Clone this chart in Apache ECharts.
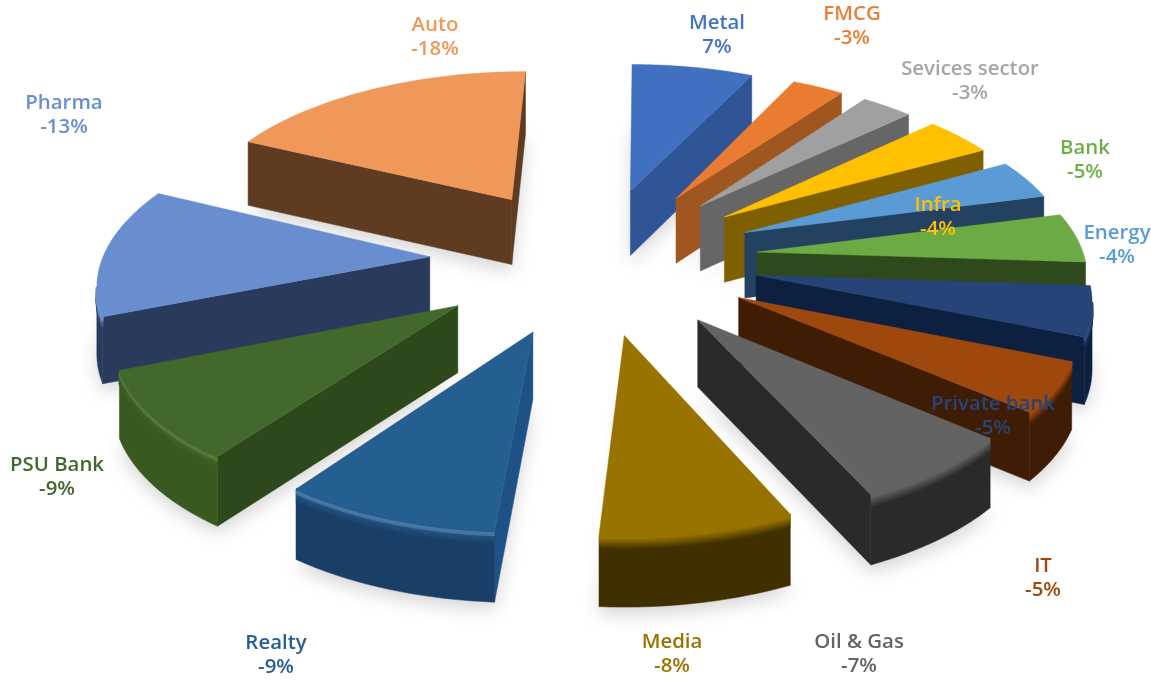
<!DOCTYPE html>
<html><head><meta charset="utf-8">
<style>html,body{margin:0;padding:0;background:#fff}#c{width:1151px;height:681px}</style>
<script src="https://cdn.jsdelivr.net/npm/echarts@6/dist/echarts.min.js"></script>
</head><body><div id="c"></div>
<script>
// DATA
const categories = ['Metal','FMCG','Sevices sector','Infra','Energy','Bank','Private bank','IT','Oil & Gas','Media','Realty','PSU Bank','Pharma','Auto'];
const returnsPct = [7,-3,-3,-4,-4,-5,-5,-5,-7,-8,-9,-9,-13,-18];
// STYLE
const topColors   = ['#4270C0','#E97C30','#A0A0A0','#FFC000','#5B9BD5','#6CAB44','#264478','#9E480E','#636363','#997300','#255E91','#43682B','#698ED0','#F0975A'];
const radialColors= ['#2F5597','#A0561F','#666666','#7F6000','#234161','#2E4A1C','#0D2040','#3F1D05','#2A2A2A','#403000','#1E5287','#2D481A','#2A3A5C','#5F3B22'];
const wallColors  = ['#2F5597','#A0561F','#666666','#7F6000','#234161','#2E4A1C','#0D2040','#3F1D05','#2A2A2A','#403000','#1A3F66','#38591F','#2A3A5C','#5F3B22'];
const rimGlow     = [0,0,0,0,0,0,.08,0,0,0,.16,.1,.1,0];
const labelColors = ['#4472C4','#ED7D31','#A5A5A5','#FFC000','#5B9BD5','#70AD47','#264478','#9E480E','#636363','#997300','#255E91','#43682B','#698ED0','#F1975A'];
const labelAt = [[717,35],[852,26],[970,81],[938,217],[1117,245],[1085,160],[993,416],[1043,578],[859,654],[672,654],[276,655],[57,477],[64,115],[435,37]];
// SCENE
const cx=594, cy=259, tilt=.46, persp=.00035, shear=.015, xScale=.98, explodeX=168, explodeY=160, radiusX=334, radiusY=340, depth=66;
const total = returnsPct.reduce((a,v)=>a+Math.abs(v),0);
const starts=[]; { let a=0; returnsPct.forEach(v=>{starts.push(a); a+=Math.abs(v)/total*Math.PI*2;}); }
function proj(X,Y,d){ const s=1/(1-Y*persp); return [cx+X*xScale*s-Y*shear, cy+Y*tilt*s+d*Math.pow(s,.4)]; }
function area(q){ let a=0; for(let i=0;i<q.length;i++){const p=q[i],n=q[(i+1)%q.length]; a+=p[0]*n[1]-n[0]*p[1];} return a; }
function rgb(h){const n=parseInt(h.slice(1),16);return [n>>16,(n>>8)&255,n&255];}
function lerp(a,b,t,g){const A=rgb(a),B=rgb(b);return 'rgb('+A.map((v,i)=>{const c=v+(B[i]-v)*t;return Math.round(c+(255-c)*(g||0));}).join(',')+')';}
const depthOrder = categories.map((_,i)=>{const a0=starts[i],a1=a0+Math.abs(returnsPct[i])/total*Math.PI*2,m=(a0+a1)/2;return {i,y:-Math.cos(m)};}).sort((a,b)=>a.y-b.y);
const rank={}; depthOrder.forEach((o,r)=>rank[o.i]=r);

function renderItem(params){
  const i=params.dataIndex, sweep=Math.abs(returnsPct[i])/total*Math.PI*2, a0=starts[i], a1=a0+sweep, m=(a0+a1)/2;
  const ox=explodeX*Math.sin(m), oy=-explodeY*Math.cos(m);
  const rim=(a,d)=>proj(ox+radiusX*Math.sin(a),oy-radiusY*Math.cos(a),d);
  const apexT=proj(ox,oy,0), apexB=proj(ox,oy,depth);
  const N=40, arcT=[], arcB=[];
  for(let k=0;k<=N;k++){const a=a0+sweep*k/N; arcT.push(rim(a,0)); arcB.push(rim(a,depth));}
  const base=rank[i]*20+10, kids=[], top=topColors[i], wall=wallColors[i], rad=radialColors[i];
  kids.push({type:'polygon',z2:1,shape:{points:[apexB].concat(arcB)},style:{fill:'#fff',shadowColor:'rgba(0,0,0,.17)',shadowBlur:18,shadowOffsetY:7}});
  const q0=[apexT,arcT[0],arcB[0],apexB], q1=[apexT,arcT[N],arcB[N],apexB];
  if(area(q0)<0) kids.push({type:'polygon',z2:base,shape:{points:q0},style:{fill:rad,stroke:rad,lineWidth:.5}});
  if(area(q1)>0) kids.push({type:'polygon',z2:base,shape:{points:q1},style:{fill:rad,stroke:rad,lineWidth:.5}});
  let runs=[],cur=null;
  for(let k=0;k<N;k++){
    const q=[arcT[k],arcT[k+1],arcB[k+1],arcB[k]];
    if(area(q)<0){ if(!cur){cur=[k,k+1];runs.push(cur);} else cur[1]=k+1; } else cur=null;
  }
  runs.forEach(r=>{
    const t=arcT.slice(r[0],r[1]+1), b=arcB.slice(r[0],r[1]+1).reverse();
    kids.push({type:'polygon',z2:base+1,shape:{points:t.concat(b)},style:{fill:wall,stroke:wall,lineWidth:.5}});
    [12,10,8,6,4,2,0].forEach((o,n)=>{
      const glow=o<=4&&o>0?rimGlow[i]:0;
      kids.push({type:'polyline',z2:base+2+n,shape:{points:t.map(p=>[p[0],p[1]+o])},
        style:{fill:null,stroke:lerp(wall,top,Math.min(1,(13-o)/11),glow),lineWidth:2.6}});
    });
  });
  kids.push({type:'polygon',z2:base+10,shape:{points:[apexT].concat(arcT)},style:{fill:top,stroke:top,lineWidth:.5}});
  const L=labelAt[i], v=returnsPct[i];
  kids.push({type:'text',z2:1000,x:L[0],y:L[1],style:{text:categories[i]+'\n'+v+'%',fill:labelColors[i],font:'600 20.4px "Open Sans"',lineHeight:24.5,align:'center',verticalAlign:'middle'}});
  return {type:'group',children:kids};
}
const chart=echarts.init(document.getElementById('c'),null,{renderer:'canvas'});
chart.setOption({animation:false,backgroundColor:'#fff',
  series:[{type:'custom',coordinateSystem:'none',renderItem,silent:true,clip:false,
    data:returnsPct.map((v,i)=>({name:categories[i],value:[v]}))}]});
</script></body></html>
